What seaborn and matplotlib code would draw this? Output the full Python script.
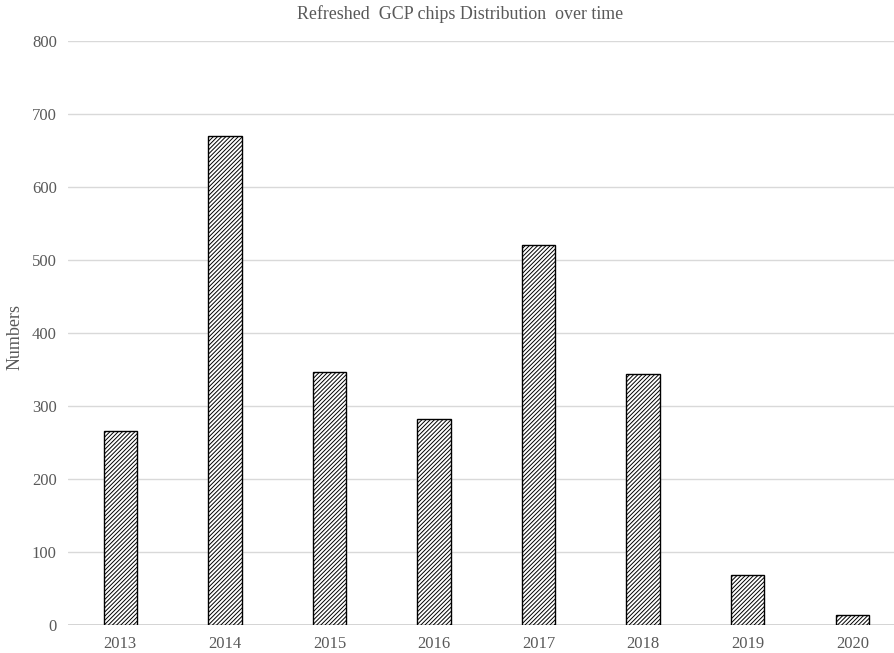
import matplotlib
matplotlib.use("Agg")
import matplotlib.pyplot as plt
import seaborn as sns
import pandas as pd

years = ["2013", "2014", "2015", "2016", "2017", "2018", "2019", "2020"]
counts = [266, 670, 346, 282, 521, 344, 69, 14]
y_ticks = [0, 100, 200, 300, 400, 500, 600, 700, 800]

sns.set_theme(style="white")
plt.rcParams["font.family"] = ["Liberation Serif", "DejaVu Serif"]
plt.rcParams["hatch.linewidth"] = 0.7
plt.rcParams["hatch.color"] = "#222222"

df = pd.DataFrame({"Year": years, "Numbers": counts})

fig = plt.figure(figsize=(8.94, 6.53), dpi=100)
ax = fig.add_axes([0.076, 0.043, 0.93, 0.894])

sns.barplot(data=df, x="Year", y="Numbers", color="white", edgecolor="black",
            linewidth=1.0, width=0.32, saturation=1, ax=ax, zorder=3)
for p in ax.patches:
    p.set_hatch("////////")
    p.set_facecolor("white")
    p.set_edgecolor("black")

ax.set_ylim(0, 800)
ax.set_xlim(-0.5, 7.45)
ax.set_yticks(y_ticks)
ax.yaxis.grid(True, color="#d9d9d9", linewidth=1.0, zorder=0)
ax.axhline(0, color="#cfcfcf", linewidth=1.2, zorder=2)
for s in ax.spines.values():
    s.set_visible(False)
ax.tick_params(axis="both", length=0, labelsize=12, colors="#595959", pad=8)
ax.set_xlabel("")
ax.set_ylabel("Numbers", fontsize=13, color="#595959")
ax.yaxis.set_label_coords(-0.053, 0.493)

fig.text(0.515, 0.978, "Refreshed  GCP chips Distribution  over time",
         ha="center", va="center", fontsize=12.9, color="#595959")

fig.savefig("out.png", dpi=100)
